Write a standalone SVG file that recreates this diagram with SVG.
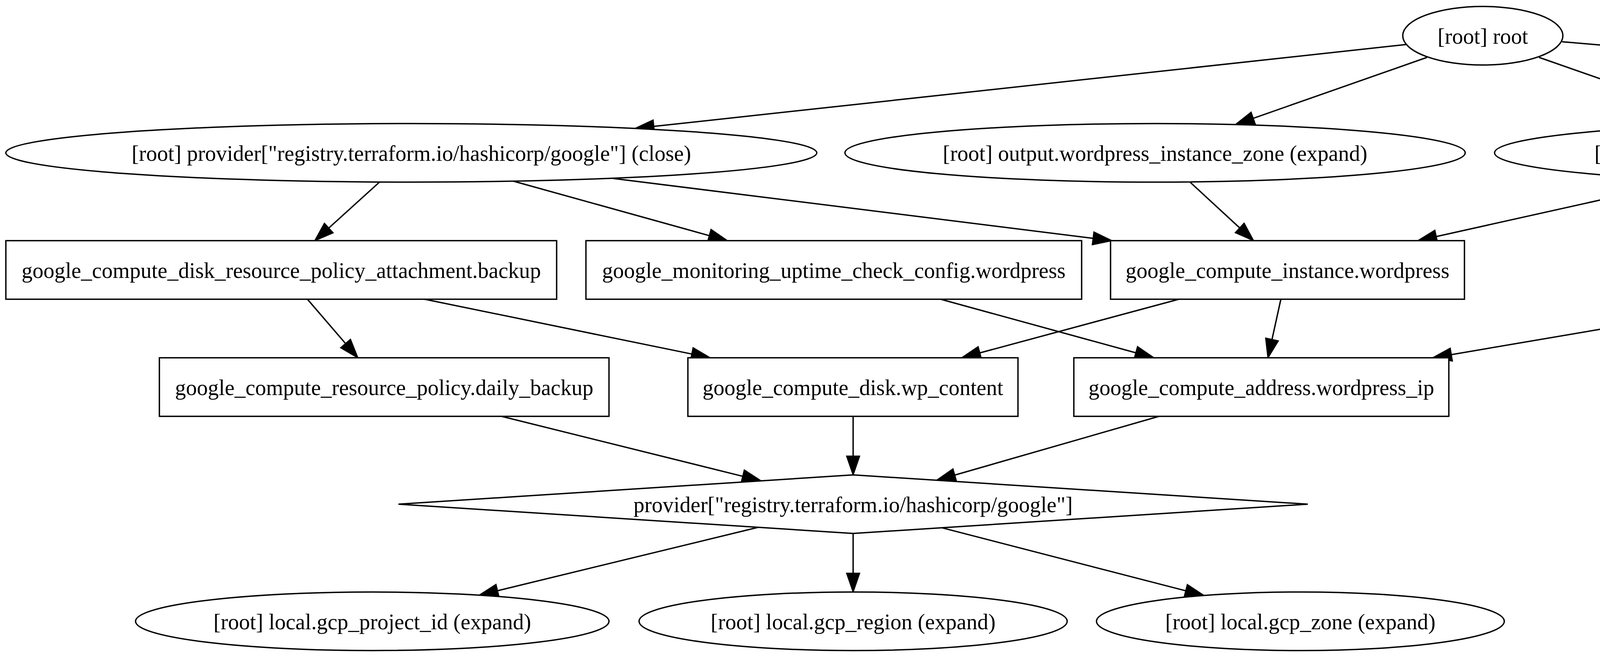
<svg xmlns="http://www.w3.org/2000/svg" width="5616" height="1683" viewBox="0 0 5616 1683">
<defs>
<style>
.n ellipse, .n rect, .n polygon { fill: #ffffff; stroke: #000000; stroke-width: 3.5; }
.n text { font-family: "Liberation Serif", "Times New Roman", serif; font-size: 56px; text-anchor: middle; fill: #000000; }
#edges path { fill: none; stroke: #000000; stroke-width: 3.5; marker-end: url(#arrow); }
</style>
<marker id="arrow" markerUnits="userSpaceOnUse" markerWidth="52" markerHeight="40" refX="0" refY="16.5" orient="auto" overflow="visible">
<path d="M0,0 L48,16.5 L0,33 Z" fill="#000000" stroke="#000000" stroke-width="3"/>
</marker>
</defs>
<rect x="0" y="0" width="5616" height="1683" fill="#ffffff"/>

<g id="edges">
<path id="e_root_close" d="M3600,114 L1673.7,323.8"/>
<path id="e_root_zone" d="M3653,147 L3208.3,303.1"/>
<path id="e_root_name" d="M3940,147 L4385.7,303.1"/>
<path id="e_root_ip" d="M3999,107 C4750,170 5505,230 5505,390 C5505,470 5409,548 5313,601.5"/>
<path id="e_close_attach" d="M972,466 L841.6,584.2"/>
<path id="e_close_monitor" d="M1314,464 L1815.8,603.6"/>
<path id="e_close_instance" d="M1569,457 L2798.4,610.6"/>
<path id="e_zone_instance" d="M3046,466 L3173.7,583.9"/>
<path id="e_name_instance" d="M4327,461 L3676.8,606"/>
<path id="e_attach_daily" d="M787,766.5 L884.7,880.1"/>
<path id="e_attach_disk" d="M1087,766.5 L1771,906.9"/>
<path id="e_monitor_address" d="M2408,766.5 L2907.7,903.8"/>
<path id="e_instance_disk" d="M3018,766.5 L2508.3,904"/>
<path id="e_instance_address" d="M3279,766.5 L3256.3,869.6"/>
<path id="e_ip_address" d="M4634,752 L3715.3,908.4"/>
<path id="e_daily_provider" d="M1284,1066.5 L1901.4,1220.1"/>
<path id="e_disk_provider" d="M2184,1066.5 L2184,1168.5"/>
<path id="e_address_provider" d="M2967,1066.5 L2444.1,1217"/>
<path id="e_provider_project" d="M1941,1350.8 L1273.6,1513.2"/>
<path id="e_provider_region" d="M2184,1366.5 L2184,1468.5"/>
<path id="e_provider_zone" d="M2411,1351.9 L3035.5,1513.4"/>
</g>

<g id="node_root" class="n">
<ellipse cx="3796" cy="91.5" rx="205" ry="75"/>
<text x="3796" y="111.5">[root] root</text>
</g>
<g id="node_provider_close" class="n">
<ellipse cx="1053" cy="391.5" rx="1038" ry="75"/>
<text x="1053" y="411.5">[root] provider["registry.terraform.io/hashicorp/google"] (close)</text>
</g>
<g id="node_output_zone" class="n">
<ellipse cx="2957" cy="391.5" rx="794" ry="75"/>
<text x="2957" y="411.5">[root] output.wordpress_instance_zone (expand)</text>
</g>
<g id="node_output_name" class="n">
<ellipse cx="4633" cy="391.5" rx="807" ry="75"/>
<text x="4633" y="411.5">[root] output.wordpress_instance_name (expand)</text>
</g>
<g id="node_attachment" class="n">
<rect x="15" y="616.5" width="1410" height="150"/>
<text x="720" y="711.5">google_compute_disk_resource_policy_attachment.backup</text>
</g>
<g id="node_monitoring" class="n">
<rect x="1500" y="616.5" width="1269" height="150"/>
<text x="2134.5" y="711.5">google_monitoring_uptime_check_config.wordpress</text>
</g>
<g id="node_instance" class="n">
<rect x="2843" y="616.5" width="906" height="150"/>
<text x="3296" y="711.5">google_compute_instance.wordpress</text>
</g>
<g id="node_output_ip" class="n">
<ellipse cx="4992" cy="691.5" rx="607" ry="75"/>
<text x="4992" y="711.5">[root] output.wordpress_ip (expand)</text>
</g>
<g id="node_daily_backup" class="n">
<rect x="408" y="916.5" width="1151" height="150"/>
<text x="983.5" y="1011.5">google_compute_resource_policy.daily_backup</text>
</g>
<g id="node_wp_content" class="n">
<rect x="1761" y="916.5" width="845" height="150"/>
<text x="2183.5" y="1011.5">google_compute_disk.wp_content</text>
</g>
<g id="node_address" class="n">
<rect x="2749" y="916.5" width="960" height="150"/>
<text x="3229" y="1011.5">google_compute_address.wordpress_ip</text>
</g>
<g id="node_provider" class="n">
<polygon points="1020,1291.5 2184,1216.5 3348,1291.5 2184,1366.5"/>
<text x="2184" y="1311.5">provider["registry.terraform.io/hashicorp/google"]</text>
</g>
<g id="node_project_id" class="n">
<ellipse cx="953" cy="1591.5" rx="606" ry="75"/>
<text x="953" y="1611.5">[root] local.gcp_project_id (expand)</text>
</g>
<g id="node_region" class="n">
<ellipse cx="2184" cy="1591.5" rx="548" ry="75"/>
<text x="2184" y="1611.5">[root] local.gcp_region (expand)</text>
</g>
<g id="node_local_zone" class="n">
<ellipse cx="3329" cy="1591.5" rx="522" ry="75"/>
<text x="3329" y="1611.5">[root] local.gcp_zone (expand)</text>
</g>
</svg>
